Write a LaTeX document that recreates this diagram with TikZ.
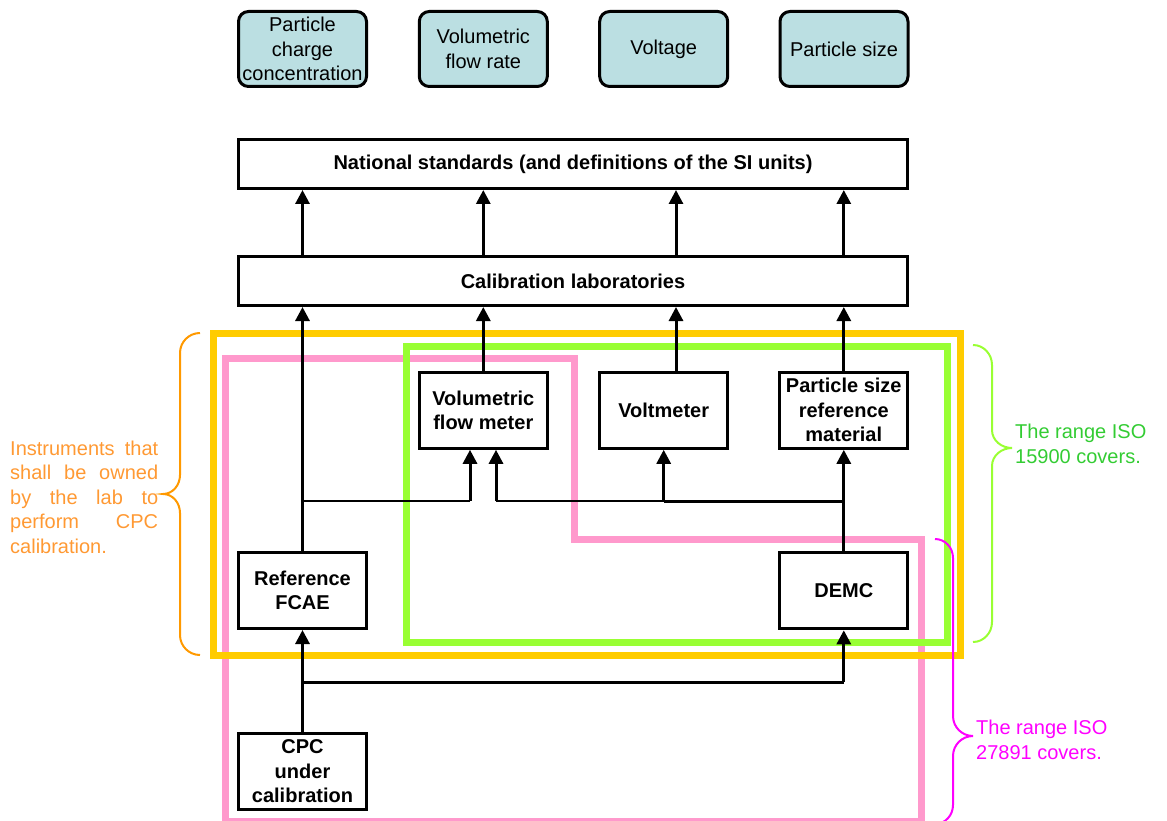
\documentclass[tikz,border=0pt]{standalone}
\usepackage{fontspec}
\setmainfont{Liberation Sans}
\usetikzlibrary{arrows.meta}
\definecolor{qfill}{HTML}{BBDFE2}
\definecolor{labframe}{HTML}{FFCC00}
\definecolor{isoframe}{HTML}{99FF33}
\definecolor{cpcframe}{HTML}{FF99CC}
\definecolor{labtext}{HTML}{FF9933}
\definecolor{labbrace}{HTML}{FF9900}
\definecolor{isotext}{HTML}{33CC33}
\definecolor{cpcmark}{HTML}{FF00FF}

\begin{document}
\begin{tikzpicture}[x=1pt,y=-1pt,
  every node/.style={font=\fontsize{20}{24.5}\selectfont},
  quantity/.style={draw, line width=3pt, rounded corners=10pt, fill=qfill,
    inner sep=0pt, align=center, minimum width=128pt, minimum height=75pt},
  level/.style={draw, line width=3pt, fill=white, minimum width=669pt,
    minimum height=49pt, font=\fontsize{20}{24.5}\selectfont\bfseries},
  instr/.style={draw, line width=3pt, fill=white, inner sep=0pt, align=center,
    minimum width=128pt, minimum height=76pt,
    font=\fontsize{20}{24.5}\selectfont\bfseries},
  link/.style={line width=3pt, -{Triangle[width=14pt,length=14pt]}},
  wire/.style={line width=3pt},
  thinwire/.style={line width=1.2pt},
  frame/.style={line width=7pt, line join=miter},
  brace/.style={line width=2pt}
]
\clip (0,0) rectangle (1167,821);

% coloured groupings
\draw[frame, cpcframe] (225,358) -- (574,358) -- (574,539) -- (921,539)
  -- (921,821) -- (225,821) -- cycle;
\draw[frame, isoframe] (406,346) rectangle (947,642);
\draw[frame, labframe] (213,333) rectangle (960,655);

% braces and notes
\draw[brace, labbrace] (200,333) to[out=180,in=90] (180,353) -- (180,475)
  to[out=-90,in=0] (163,494) to[out=0,in=90] (180,513) -- (180,635)
  to[out=-90,in=180] (200,655);
\draw[brace, isoframe] (973,345) to[out=0,in=90] (992,365) -- (992,430)
  to[out=-90,in=180] (1012,448) to[out=180,in=90] (992,466) -- (992,622)
  to[out=-90,in=0] (973,642);
\draw[brace, cpcmark] (935,539) to[out=0,in=90] (953,558) -- (953,716)
  to[out=-90,in=180] (973,736) to[out=180,in=90] (953,756) -- (953,805)
  to[out=-90,in=0] (935,824);

\node[text=labtext, text width=148pt, align=justify, anchor=west, inner sep=0pt]
  (labnote) at (10,497) {Instruments that\linebreak shall be owned\linebreak
  by the lab to\linebreak perform CPC\linebreak calibration.};
\node[text=isotext, anchor=west, align=left, inner sep=0pt] (isonote)
  at (1015,444) {The range ISO\\15900 covers.};
\node[text=cpcmark, anchor=west, align=left, inner sep=0pt] (cpcnote)
  at (976,740) {The range ISO\\27891 covers.};

% quantities
\node[quantity] (q1) at (302.5,49) {Particle\\charge\\concentration};
\node[quantity] (q2) at (483.3,49) {Volumetric\\flow rate};
\node[quantity] (q3) at (663.7,49) {Voltage};
\node[quantity] (q4) at (844,49) {Particle size};

% traceability levels
\node[level] (nat) at (573,164) {National standards (and definitions of the SI units)};
\node[level] (cal) at (573,281) {Calibration laboratories};

% instruments
\node[instr] (vfm) at (483.3,410.3) {Volumetric\\flow meter};
\node[instr] (vm) at (663.7,410.3) {Voltmeter};
\node[instr] (psr) at (843.8,410.3) {Particle size\\reference\\material};
\node[instr] (fcae) at (302.5,590.5) {Reference\\FCAE};
\node[instr] (demc) at (843.8,590.8) {DEMC};
\node[instr] (cpc) at (302.5,771.5) {CPC\\under\\calibration};

% helper points
\coordinate (vx) at (676,0);
\coordinate (jl) at (302.5,501);
\coordinate (ja) at (470,501);
\coordinate (jb) at (496,501);
\coordinate (jc) at (302.5,682);

% calibration laboratories to national standards
\draw[link] (cal.north -| fcae.north) -- (nat.south -| fcae.north);
\draw[link] (cal.north -| vfm.north) -- (nat.south -| vfm.north);
\draw[link] (cal.north -| vx) -- (nat.south -| vx);
\draw[link] (cal.north -| psr.north) -- (nat.south -| psr.north);

% instruments to calibration laboratories
\draw[link] (fcae.north) -- (cal.south -| fcae.north);
\draw[link] (vfm.north) -- (cal.south -| vfm.north);
\draw[link] (vm.north -| vx) -- (cal.south -| vx);
\draw[link] (psr.north) -- (cal.south -| psr.north);

% links between instruments
\draw[thinwire] (fcae.north |- jl) -- (ja);
\draw[link] (ja) -- (vfm.south -| ja);
\draw[link] (demc.north) -- (psr.south);
\draw[wire] (demc.north |- jl) -- (vm.south |- jl);
\draw[link] (vm.south |- jl) -- (vm.south);
\draw[thinwire] (vm.south |- jl) -- (jb);
\draw[link] (jb) -- (vfm.south -| jb);

% CPC under calibration
\draw[link] (cpc.north) -- (fcae.south);
\draw[wire] (cpc.north |- jc) -- (demc.south |- jc);
\draw[link] (demc.south |- jc) -- (demc.south);
\end{tikzpicture}
\end{document}
